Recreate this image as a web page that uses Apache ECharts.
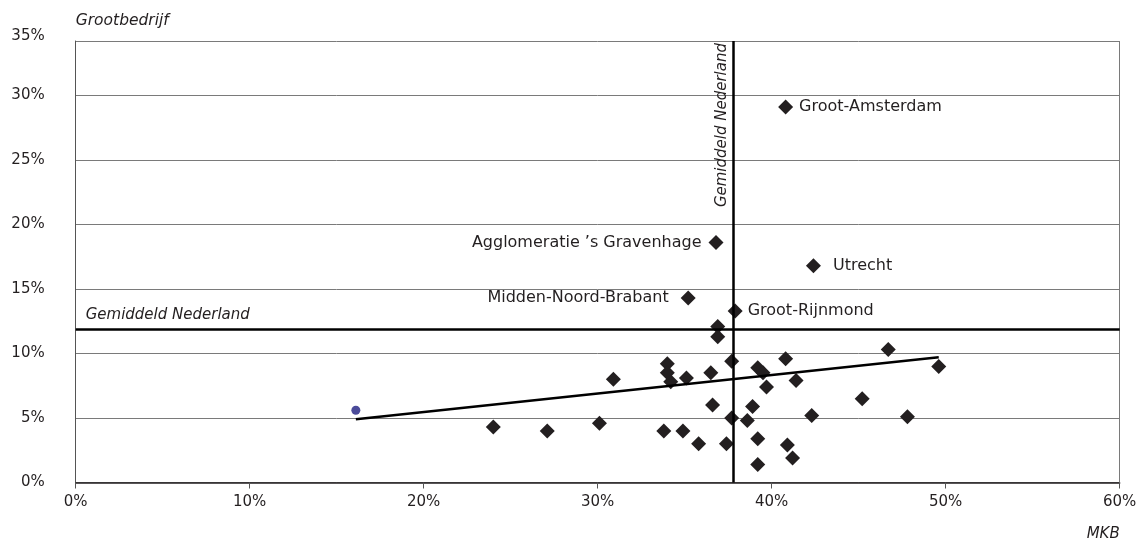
<!DOCTYPE html>
<html>
<head>
<meta charset="utf-8">
<script src="https://cdn.jsdelivr.net/npm/echarts@6/dist/echarts.min.js"></script>
<style>html,body{margin:0;padding:0;background:#fff;}#c{width:1145px;height:547px;}</style>
</head>
<body>
<div id="c"></div>
<script>
// Share of employment (%) per COROP region: MKB (x) vs Grootbedrijf (y)
const regionNames = ['Groot-Amsterdam', 'Agglomeratie \u2019s Gravenhage', 'Utrecht', 'Midden-Noord-Brabant', 'Groot-Rijnmond',
  '', '', '', '', '', '', '', '', '', '', '', '', '', '', '', '', '', '', '', '', '', '', '', '', '', '', '', '', '', '', '', '', '', ''];
const mkbShare = [40.8, 36.8, 42.4, 35.2, 37.9, 36.9, 36.9, 34.0, 34.0, 34.2, 35.1, 36.5, 30.9, 36.6, 37.7, 24.0, 27.1, 30.1, 33.8, 34.9,
  35.8, 37.4, 39.2, 39.5, 39.7, 40.8, 41.4, 46.7, 49.6, 38.9, 37.7, 38.6, 42.3, 45.2, 47.8, 39.2, 40.9, 41.2, 39.2];
const grootShare = [29.1, 18.6, 16.8, 14.3, 13.3, 12.1, 11.3, 9.2, 8.5, 7.8, 8.1, 8.5, 8.0, 6.0, 9.4, 4.3, 4.0, 4.6, 4.0, 4.0,
  3.0, 3.0, 8.9, 8.5, 7.4, 9.6, 7.9, 10.3, 9.0, 5.9, 5.0, 4.8, 5.2, 6.5, 5.1, 3.4, 2.9, 1.9, 1.4];
const outlierPoint = [16.1, 5.6];
const trendX = [16.1, 49.6];
const trendY = [4.9, 9.7];
const avgMKB = 37.8;
const avgGroot = 11.9;
const avgLabel = 'Gemiddeld Nederland';
const xTickLabels = ['0%', '10%', '20%', '30%', '40%', '50%', '60%'];
const yTickLabels = ['0%', '5%', '10%', '15%', '20%', '25%', '30%', '35%'];

const labelPlacement = {
  'Groot-Amsterdam': ['right', 6],
  'Agglomeratie \u2019s Gravenhage': ['left', 7],
  'Utrecht': ['right', 12],
  'Midden-Noord-Brabant': ['left', 12],
  'Groot-Rijnmond': ['right', 5]
};

const FONT = 'DejaVu Sans';
const pts = mkbShare.map((x, i) => {
  const item = { value: [x, grootShare[i]], name: regionNames[i] };
  const p = labelPlacement[regionNames[i]];
  if (p) {
    item.label = { show: true, position: p[0], distance: p[1], formatter: '{b}', color: '#231f20', fontSize: 16, fontFamily: FONT };
  }
  return item;
});

const chart = echarts.init(document.getElementById('c'));
chart.setOption({
  animation: false,
  grid: { left: 75.7, right: 25.3, top: 41, bottom: 64.5 },
  xAxis: {
    type: 'value', min: 0, max: 60, interval: 10,
    name: 'MKB', nameLocation: 'end', nameGap: 0,
    nameTextStyle: { fontFamily: FONT, fontStyle: 'italic', fontSize: 15, color: '#231f20', align: 'right', verticalAlign: 'top', padding: [44, 0, 0, 0] },
    axisLine: { lineStyle: { color: '#231f20', width: 1.5 } },
    axisTick: { show: true, length: 6, lineStyle: { color: '#555' } },
    splitLine: { show: false },
    axisLabel: { margin: 12, fontFamily: FONT, fontSize: 15, color: '#231f20',
      formatter: v => xTickLabels[Math.round(v / 10)] }
  },
  yAxis: {
    type: 'value', min: 0, max: 34.22, interval: 5,
    name: 'Grootbedrijf', nameLocation: 'end', nameGap: 12,
    nameTextStyle: { fontFamily: FONT, fontStyle: 'italic', fontSize: 15.5, color: '#231f20', align: 'left' },
    axisLine: { show: true, lineStyle: { color: '#555', width: 1 } },
    axisTick: { show: false },
    splitLine: { show: true, lineStyle: { color: '#7a7a7a', width: 1 } },
    axisLabel: { margin: 31, fontFamily: FONT, fontSize: 15, color: '#231f20',
      formatter: v => {
        const i = Math.round(v / 5);
        return i === 7 ? '{top|' + yTickLabels[i] + '}' : yTickLabels[i];
      },
      rich: { top: { fontFamily: FONT, fontSize: 15, color: '#231f20', padding: [0, 0, 10, 0] } }
    }
  },
  series: [
    {
      type: 'scatter', symbol: 'diamond', symbolSize: 15,
      itemStyle: { color: '#231f20', opacity: 1 },
      data: pts,
      silent: true,
      markLine: {
        silent: true, symbol: 'none', animation: false,
        data: [
          { xAxis: 60, lineStyle: { color: '#7a7a7a', width: 1, type: 'solid' }, label: { show: false } },
          { yAxis: avgGroot, lineStyle: { color: '#000', width: 2.5, type: 'solid' },
            label: { show: true, position: 'insideStartTop', formatter: avgLabel, distance: [10, 6],
              fontFamily: FONT, fontStyle: 'italic', fontSize: 15, color: '#231f20' } },
          { xAxis: avgMKB, lineStyle: { color: '#000', width: 2.5, type: 'solid' },
            label: { show: true, position: 'insideEndTop', formatter: avgLabel, distance: [2, 4],
              fontFamily: FONT, fontStyle: 'italic', fontSize: 15, color: '#231f20' } }
        ]
      }
    },
    {
      type: 'line', data: trendX.map((x, i) => [x, trendY[i]]),
      symbol: 'none', silent: true,
      lineStyle: { color: '#000', width: 2.5 }
    },
    {
      type: 'scatter', symbol: 'circle', symbolSize: 9, silent: true,
      itemStyle: { color: '#4b4b9a', opacity: 1 },
      data: [outlierPoint]
    }
  ]
});
</script>
</body>
</html>
